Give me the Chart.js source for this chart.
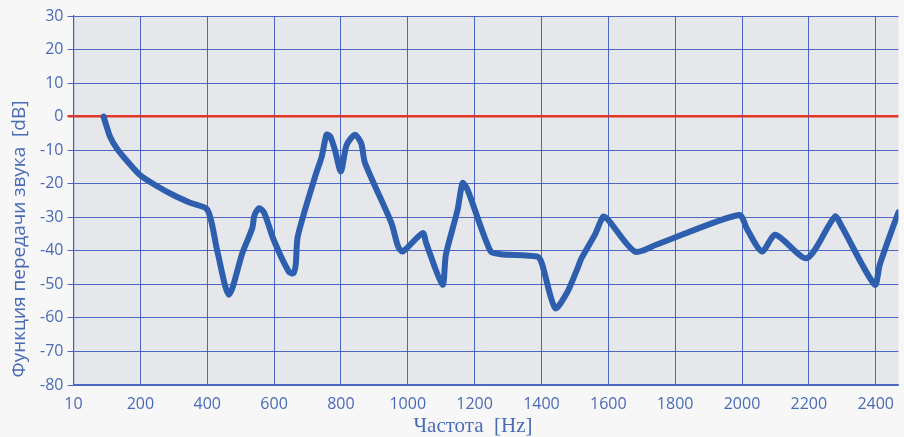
<!DOCTYPE html>
<html>
<head>
<meta charset="utf-8">
<script src="https://cdn.jsdelivr.net/npm/chart.js@4/dist/chart.umd.min.js"></script>
<style>
  html, body { margin: 0; padding: 0; background: #f7f7f7; }
  #wrap { width: 904px; height: 437px; position: relative; }
</style>
</head>
<body>
<div id="wrap"><canvas id="c" width="904" height="437"></canvas></div>
<script>
// ---- data ----
const freqHz = [90, 99, 109, 129, 148, 198, 248, 297, 347, 401, 430, 465, 505, 535, 541, 555, 570, 600, 644, 658, 665, 671, 723, 743, 757, 768, 782, 800, 817, 842, 861, 872, 951, 971, 985, 1045, 1055, 1104, 1114, 1149, 1164, 1179, 1248, 1278, 1387, 1401, 1441, 1476, 1506, 1520, 1560, 1585, 1600, 1679, 1743, 1991, 2016, 2060, 2100, 2194, 2278, 2298, 2397, 2412, 2436, 2468];
const gainDb = [0, -2.9, -5.9, -9.4, -11.8, -17.3, -20.6, -23.3, -25.6, -27.8, -40, -53.1, -40.7, -33.2, -29.5, -27.3, -28.6, -37, -46.2, -46.7, -44, -35.7, -17.8, -11.8, -5.4, -5.9, -9.9, -16.3, -8.5, -5.4, -8.0, -13.8, -31.7, -38.7, -40.2, -34.7, -37.7, -50.1, -41.2, -27.8, -19.8, -21.8, -40.2, -41.0, -41.7, -43.7, -57.1, -52.6, -45.7, -42.2, -35.2, -29.8, -30.8, -40.2, -38.2, -29.3, -33.7, -40.2, -35.2, -42.2, -29.8, -32.7, -50.1, -44.2, -37.2, -28.5];
const xTickValues = [0, 200, 400, 600, 800, 1000, 1200, 1400, 1600, 1800, 2000, 2200, 2400];
const xTickLabels = ['10', '200', '400', '600', '800', '1000', '1200', '1400', '1600', '1800', '2000', '2200', '2400'];
const yTickValues = [30, 20, 10, 0, -10, -20, -30, -40, -50, -60, -70, -80];
const xTitle = 'Частота  [Hz]';
const yTitle = 'Функция передачи звука  [dB]';

const points = freqHz.map((f, i) => ({ x: f, y: gainDb[i] }));

const GRID = 'rgba(60,88,190,0.9)';
const TEXT = '#4a6bb3';
const RED = '#e3362a';

const bgPlugin = {
  id: 'bg',
  beforeDraw(chart) {
    const { ctx, chartArea: a } = chart;
    ctx.save();
    ctx.fillStyle = '#f7f7f7';
    ctx.fillRect(0, 0, chart.width, chart.height);
    ctx.fillStyle = '#e5e7eb';
    ctx.fillRect(a.left, a.top, a.right - a.left, a.bottom - a.top);
    ctx.restore();
  }
};

const titlePlugin = {
  id: 'axisTitles',
  afterDraw(chart) {
    const { ctx } = chart;
    ctx.save();
    ctx.fillStyle = TEXT;
    ctx.textAlign = 'center';
    ctx.textBaseline = 'middle';
    ctx.font = '21px "Liberation Serif", serif';
    ctx.fillText(xTitle, 473, 426);
    ctx.font = '19px "Open Sans", sans-serif';
    ctx.translate(20, 239);
    ctx.rotate(-Math.PI / 2);
    ctx.fillText(yTitle, 0, 0);
    ctx.restore();
  }
};

new Chart(document.getElementById('c'), {
  type: 'line',
  data: {
    datasets: [{
      data: points,
      borderColor: '#2d5fae',
      borderWidth: 6,
      pointRadius: 0,
      tension: 0.25,
      borderCapStyle: 'round',
      borderJoinStyle: 'round',
      fill: false
    }]
  },
  options: {
    responsive: false,
    animation: false,
    events: [],
    layout: { padding: { top: 16, right: 0, bottom: 0, left: 0 } },
    plugins: { legend: { display: false }, tooltip: { enabled: false } },
    scales: {
      x: {
        type: 'linear',
        min: 0,
        max: 2468,
        afterFit(s) { s.height = 52; },
        afterBuildTicks(s) { s.ticks = xTickValues.map(v => ({ value: v })); },
        ticks: {
          includeBounds: false,
          color: TEXT,
          font: { family: 'Open Sans', size: 16 },
          padding: 10,
          maxRotation: 0,
          autoSkip: false,
          callback(v) { const i = xTickValues.indexOf(v); return i >= 0 ? xTickLabels[i] : ''; }
        },
        grid: { color: GRID, lineWidth: 1, drawTicks: false },
        border: { color: GRID, width: 1.2 }
      },
      y: {
        type: 'linear',
        min: -80,
        max: 30,
        afterFit(s) { s.width = 73.5; },
        afterBuildTicks(s) { s.ticks = yTickValues.map(v => ({ value: v })); },
        ticks: {
          color: TEXT,
          font: { family: 'Open Sans', size: 16 },
          padding: 4,
          autoSkip: false
        },
        grid: {
          color: c => (c.tick && c.tick.value === 0 ? RED : GRID),
          lineWidth: c => (c.tick && c.tick.value === 0 ? 2.5 : 1),
          tickLength: 6
        },
        border: { color: GRID, width: 1.2 }
      }
    }
  },
  plugins: [bgPlugin, titlePlugin]
});
</script>
</body>
</html>
